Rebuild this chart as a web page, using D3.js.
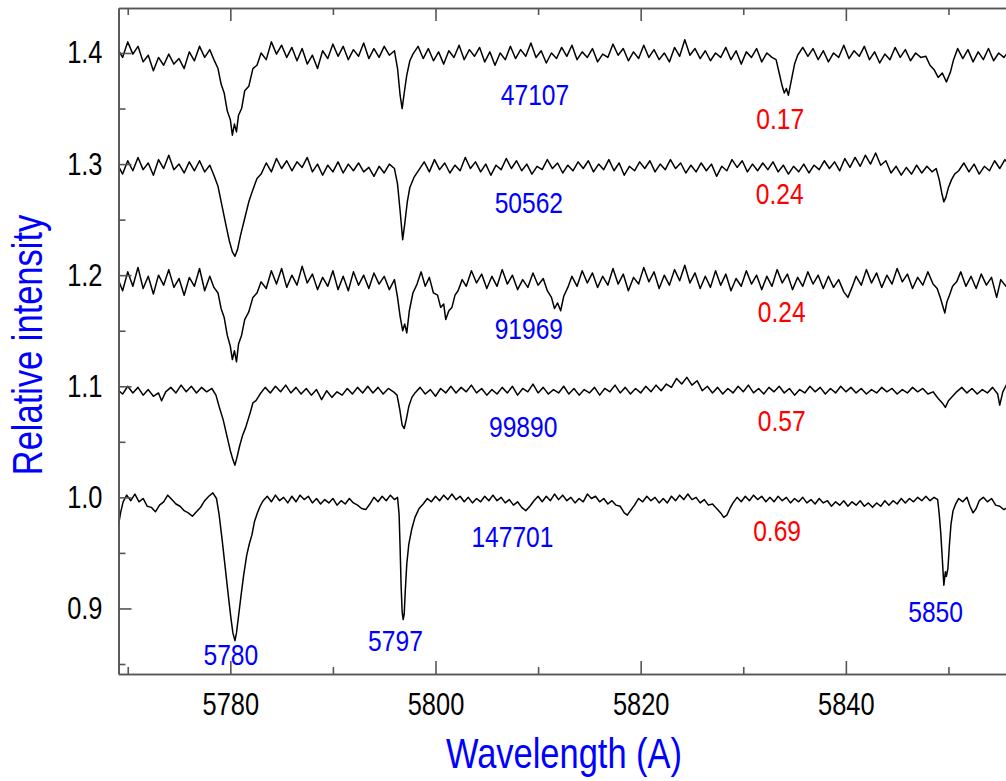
<!DOCTYPE html>
<html>
<head>
<meta charset="utf-8">
<script src="https://cdn.jsdelivr.net/npm/d3@7"></script>
<style>
  body { margin: 0; background: #fff; }
  svg text { font-family: "Liberation Sans Narrow", "Arial Narrow", "Liberation Sans", Arial, sans-serif; }
  .axis path, .axis line { stroke: #555; stroke-width: 1.6px; }
  .axis text { fill: #000; font-size: 31px; }
</style>
</head>
<body>
<div id="chart"></div>
<script>
// star ids and the ratio printed next to each spectrum
const starIds = ["47107", "50562", "91969", "99890", "147701"];
const ratioLabels = ["0.17", "0.24", "0.24", "0.57", "0.69"];
const dibLabels = ["5780", "5797", "5850"];

const xMajorTicks = [5780, 5800, 5820, 5840];
const xMinorTicks = [5770, 5790, 5810, 5830, 5850];
const yMajorTicks = [0.9, 1.0, 1.1, 1.2, 1.3, 1.4];
const yMinorTicks = [0.85, 0.95, 1.05, 1.15, 1.25, 1.35];

// spectra: [wavelength, relative intensity]
const spec47107 = [
  [5769.0,1.404],[5769.5,1.396],[5770.0,1.410],[5770.5,1.399],[5771.0,1.406],[5771.5,1.392],[5772.0,1.398],[5772.5,1.384],
  [5773.0,1.396],[5773.5,1.389],[5774.0,1.399],[5774.5,1.390],[5775.0,1.395],[5775.5,1.386],[5776.0,1.401],[5776.5,1.393],
  [5777.0,1.406],[5777.5,1.396],[5778.0,1.403],[5778.4,1.394],[5778.8,1.386],[5779.1,1.372],[5779.4,1.364],[5779.7,1.348],
  [5780.0,1.340],[5780.2,1.326],[5780.4,1.336],[5780.6,1.329],[5780.8,1.344],[5781.1,1.350],[5781.4,1.366],[5781.8,1.370],
  [5782.2,1.386],[5782.6,1.389],[5783.0,1.400],[5783.5,1.394],[5784.0,1.410],[5784.5,1.399],[5785.0,1.407],[5785.5,1.396],
  [5786.0,1.405],[5786.5,1.393],[5787.0,1.404],[5787.5,1.390],[5788.0,1.398],[5788.5,1.386],[5789.0,1.402],[5789.5,1.395],
  [5790.0,1.408],[5790.5,1.397],[5791.0,1.406],[5791.5,1.394],[5792.0,1.403],[5792.5,1.397],[5793.0,1.409],[5793.5,1.395],
  [5794.0,1.404],[5794.5,1.396],[5795.0,1.406],[5795.5,1.398],[5796.0,1.402],[5796.3,1.386],[5796.55,1.362],[5796.75,1.350],
  [5796.95,1.364],[5797.2,1.380],[5797.5,1.393],[5797.8,1.399],[5798.3,1.406],[5798.8,1.395],[5799.3,1.404],[5799.8,1.393],
  [5800.3,1.401],[5800.8,1.390],[5801.3,1.402],[5801.8,1.396],[5802.3,1.407],[5802.8,1.394],[5803.3,1.403],[5803.8,1.397],
  [5804.3,1.405],[5804.8,1.392],[5805.3,1.401],[5805.8,1.389],[5806.3,1.400],[5806.8,1.394],[5807.3,1.406],[5807.8,1.395],
  [5808.3,1.403],[5808.8,1.397],[5809.3,1.409],[5809.8,1.396],[5810.3,1.402],[5810.8,1.391],[5811.3,1.400],[5811.8,1.395],
  [5812.3,1.405],[5812.8,1.397],[5813.3,1.407],[5813.8,1.394],[5814.3,1.401],[5814.8,1.396],[5815.3,1.404],[5815.8,1.392],
  [5816.3,1.399],[5816.8,1.396],[5817.3,1.408],[5817.8,1.398],[5818.3,1.404],[5818.8,1.393],[5819.3,1.401],[5819.8,1.395],
  [5820.3,1.407],[5820.8,1.396],[5821.3,1.403],[5821.8,1.394],[5822.3,1.400],[5822.8,1.392],[5823.3,1.405],[5823.8,1.397],
  [5824.3,1.412],[5824.8,1.398],[5825.3,1.404],[5825.8,1.395],[5826.3,1.402],[5826.8,1.393],[5827.3,1.400],[5827.8,1.396],
  [5828.3,1.405],[5828.8,1.394],[5829.3,1.402],[5829.8,1.390],[5830.3,1.401],[5830.8,1.396],[5831.3,1.404],[5831.8,1.392],
  [5832.3,1.400],[5832.8,1.396],[5833.2,1.394],[5833.5,1.382],[5833.8,1.370],[5834.0,1.364],[5834.2,1.368],[5834.4,1.362],
  [5834.7,1.376],[5835.0,1.390],[5835.3,1.398],[5835.8,1.405],[5836.3,1.397],[5836.8,1.404],[5837.3,1.394],[5837.8,1.402],
  [5838.3,1.392],[5838.8,1.400],[5839.3,1.396],[5839.8,1.407],[5840.3,1.395],[5840.8,1.402],[5841.3,1.397],[5841.8,1.406],
  [5842.3,1.394],[5842.8,1.401],[5843.3,1.391],[5843.8,1.399],[5844.3,1.394],[5844.8,1.405],[5845.3,1.396],[5845.8,1.403],
  [5846.3,1.393],[5846.8,1.400],[5847.3,1.396],[5847.8,1.397],[5848.2,1.389],[5848.6,1.385],[5849.0,1.378],[5849.4,1.382],
  [5849.8,1.374],[5850.2,1.383],[5850.5,1.394],[5850.9,1.404],[5851.4,1.395],[5851.9,1.403],[5852.4,1.392],[5852.9,1.401],
  [5853.4,1.394],[5853.9,1.404],[5854.4,1.393],[5854.9,1.400],[5855.4,1.396],[5855.9,1.402]
];

const spec50562 = [
  [5769.0,1.300],[5769.5,1.291],[5770.0,1.303],[5770.5,1.294],[5771.0,1.306],[5771.5,1.295],[5772.0,1.301],[5772.5,1.290],
  [5773.0,1.304],[5773.5,1.296],[5774.0,1.308],[5774.5,1.295],[5775.0,1.300],[5775.5,1.292],[5776.0,1.302],[5776.5,1.294],
  [5777.0,1.303],[5777.5,1.293],[5778.0,1.299],[5778.4,1.290],[5778.8,1.280],[5779.2,1.262],[5779.6,1.244],[5779.9,1.231],
  [5780.2,1.221],[5780.45,1.217],[5780.7,1.223],[5781.0,1.236],[5781.4,1.251],[5781.8,1.266],[5782.2,1.277],[5782.6,1.287],
  [5783.0,1.291],[5783.5,1.301],[5784.0,1.293],[5784.5,1.305],[5785.0,1.296],[5785.5,1.303],[5786.0,1.294],[5786.5,1.302],
  [5787.0,1.297],[5787.5,1.306],[5788.0,1.293],[5788.5,1.300],[5789.0,1.290],[5789.5,1.299],[5790.0,1.293],[5790.5,1.302],
  [5791.0,1.292],[5791.5,1.300],[5792.0,1.294],[5792.5,1.301],[5793.0,1.293],[5793.5,1.297],[5794.0,1.289],[5794.5,1.298],
  [5795.0,1.292],[5795.5,1.300],[5796.0,1.296],[5796.3,1.282],[5796.55,1.258],[5796.8,1.232],[5797.0,1.246],[5797.25,1.266],
  [5797.5,1.279],[5797.9,1.288],[5798.4,1.295],[5798.9,1.302],[5799.4,1.293],[5799.9,1.304],[5800.4,1.295],[5800.9,1.301],
  [5801.4,1.292],[5801.9,1.299],[5802.4,1.294],[5802.9,1.306],[5803.4,1.296],[5803.9,1.302],[5804.4,1.293],[5804.9,1.300],
  [5805.4,1.290],[5805.9,1.299],[5806.4,1.295],[5806.9,1.305],[5807.4,1.296],[5807.9,1.303],[5808.4,1.294],[5808.9,1.300],
  [5809.4,1.291],[5809.9,1.298],[5810.4,1.295],[5810.9,1.304],[5811.4,1.296],[5811.9,1.301],[5812.4,1.292],[5812.9,1.299],
  [5813.4,1.294],[5813.9,1.302],[5814.4,1.296],[5814.9,1.303],[5815.4,1.293],[5815.9,1.300],[5816.4,1.295],[5816.9,1.304],
  [5817.4,1.294],[5817.9,1.301],[5818.4,1.290],[5818.9,1.298],[5819.4,1.294],[5819.9,1.302],[5820.4,1.296],[5820.9,1.303],
  [5821.4,1.293],[5821.9,1.300],[5822.4,1.295],[5822.9,1.304],[5823.4,1.296],[5823.9,1.301],[5824.4,1.292],[5824.9,1.299],
  [5825.4,1.293],[5825.9,1.301],[5826.4,1.294],[5826.9,1.300],[5827.4,1.289],[5827.9,1.298],[5828.4,1.294],[5828.9,1.304],
  [5829.4,1.297],[5829.9,1.303],[5830.4,1.293],[5830.9,1.300],[5831.4,1.294],[5831.9,1.301],[5832.4,1.295],[5832.9,1.302],
  [5833.4,1.293],[5833.9,1.299],[5834.4,1.291],[5834.9,1.298],[5835.4,1.293],[5835.9,1.300],[5836.4,1.292],[5836.9,1.299],
  [5837.4,1.295],[5837.9,1.303],[5838.4,1.296],[5838.9,1.302],[5839.4,1.294],[5839.9,1.305],[5840.4,1.297],[5840.9,1.306],
  [5841.4,1.298],[5841.9,1.308],[5842.4,1.300],[5842.9,1.310],[5843.4,1.299],[5843.9,1.303],[5844.4,1.292],[5844.9,1.298],
  [5845.4,1.290],[5845.9,1.297],[5846.4,1.291],[5846.9,1.299],[5847.4,1.292],[5847.9,1.298],[5848.4,1.293],[5848.8,1.296],
  [5849.1,1.286],[5849.35,1.274],[5849.55,1.266],[5849.75,1.270],[5850.0,1.279],[5850.3,1.286],[5850.6,1.291],[5851.0,1.294],
  [5851.5,1.301],[5852.0,1.293],[5852.5,1.300],[5853.0,1.291],[5853.5,1.298],[5854.0,1.294],[5854.5,1.303],[5855.0,1.296],
  [5855.5,1.304],[5856.0,1.298]
];

const spec91969 = [
  [5769.0,1.198],[5769.5,1.186],[5770.0,1.203],[5770.5,1.190],[5771.0,1.207],[5771.5,1.188],[5772.0,1.199],[5772.5,1.183],
  [5773.0,1.200],[5773.5,1.191],[5774.0,1.205],[5774.5,1.189],[5775.0,1.197],[5775.5,1.182],[5776.0,1.198],[5776.5,1.190],
  [5777.0,1.206],[5777.5,1.186],[5778.0,1.199],[5778.4,1.189],[5778.8,1.184],[5779.1,1.170],[5779.4,1.162],[5779.7,1.146],
  [5780.0,1.136],[5780.2,1.124],[5780.4,1.132],[5780.6,1.122],[5780.8,1.138],[5781.1,1.146],[5781.4,1.160],[5781.8,1.167],
  [5782.2,1.180],[5782.6,1.184],[5783.0,1.194],[5783.5,1.188],[5784.0,1.204],[5784.5,1.192],[5785.0,1.206],[5785.5,1.189],
  [5786.0,1.200],[5786.5,1.191],[5787.0,1.208],[5787.5,1.193],[5788.0,1.201],[5788.5,1.187],[5789.0,1.198],[5789.5,1.190],
  [5790.0,1.204],[5790.5,1.187],[5791.0,1.199],[5791.5,1.186],[5792.0,1.203],[5792.5,1.191],[5793.0,1.200],[5793.5,1.188],
  [5794.0,1.202],[5794.5,1.192],[5795.0,1.199],[5795.5,1.187],[5796.0,1.196],[5796.3,1.180],[5796.55,1.163],[5796.8,1.150],
  [5797.0,1.156],[5797.2,1.148],[5797.45,1.168],[5797.8,1.184],[5798.2,1.192],[5798.6,1.203],[5799.0,1.190],[5799.4,1.198],
  [5799.8,1.184],[5800.2,1.182],[5800.5,1.171],[5800.8,1.174],[5801.0,1.160],[5801.3,1.168],[5801.6,1.171],[5801.9,1.182],
  [5802.2,1.186],[5802.6,1.196],[5803.0,1.190],[5803.5,1.204],[5804.0,1.193],[5804.5,1.201],[5805.0,1.188],[5805.5,1.199],
  [5806.0,1.190],[5806.5,1.205],[5807.0,1.192],[5807.5,1.200],[5808.0,1.187],[5808.5,1.196],[5809.0,1.189],[5809.5,1.202],
  [5810.0,1.191],[5810.5,1.197],[5810.9,1.186],[5811.3,1.180],[5811.6,1.170],[5811.9,1.175],[5812.2,1.168],[5812.5,1.181],
  [5812.9,1.189],[5813.3,1.199],[5813.8,1.190],[5814.3,1.204],[5814.8,1.193],[5815.3,1.202],[5815.8,1.189],[5816.3,1.199],
  [5816.8,1.191],[5817.3,1.206],[5817.8,1.192],[5818.3,1.201],[5818.8,1.186],[5819.3,1.198],[5819.8,1.192],[5820.3,1.207],
  [5820.8,1.194],[5821.3,1.203],[5821.8,1.188],[5822.3,1.200],[5822.8,1.191],[5823.3,1.205],[5823.8,1.195],[5824.3,1.209],
  [5824.8,1.193],[5825.3,1.202],[5825.8,1.188],[5826.3,1.199],[5826.8,1.189],[5827.3,1.204],[5827.8,1.191],[5828.3,1.201],
  [5828.8,1.186],[5829.3,1.197],[5829.8,1.190],[5830.3,1.204],[5830.8,1.192],[5831.3,1.200],[5831.8,1.187],[5832.3,1.199],
  [5832.8,1.190],[5833.3,1.205],[5833.8,1.193],[5834.3,1.201],[5834.8,1.187],[5835.3,1.198],[5835.8,1.190],[5836.3,1.203],
  [5836.8,1.192],[5837.3,1.200],[5837.8,1.188],[5838.3,1.199],[5838.8,1.189],[5839.3,1.196],[5839.8,1.185],[5840.2,1.180],
  [5840.6,1.189],[5841.0,1.199],[5841.5,1.191],[5842.0,1.205],[5842.5,1.193],[5843.0,1.202],[5843.5,1.189],[5844.0,1.200],
  [5844.5,1.192],[5845.0,1.206],[5845.5,1.194],[5846.0,1.201],[5846.5,1.188],[5847.0,1.198],[5847.5,1.191],[5848.0,1.203],
  [5848.5,1.192],[5848.9,1.188],[5849.2,1.180],[5849.45,1.172],[5849.65,1.166],[5849.85,1.176],[5850.1,1.182],[5850.4,1.190],
  [5850.8,1.194],[5851.2,1.203],[5851.7,1.190],[5852.2,1.199],[5852.7,1.188],[5853.2,1.201],[5853.7,1.191],[5854.2,1.198],
  [5854.7,1.180],[5855.1,1.196],[5855.6,1.190],[5856.0,1.199]
];

const spec99890 = [
  [5769.0,1.097],[5769.5,1.093],[5770.0,1.100],[5770.5,1.094],[5771.0,1.099],[5771.5,1.092],[5772.0,1.097],[5772.5,1.091],
  [5773.0,1.094],[5773.3,1.087],[5773.7,1.095],[5774.2,1.099],[5774.7,1.094],[5775.2,1.101],[5775.7,1.095],[5776.2,1.100],
  [5776.7,1.094],[5777.2,1.099],[5777.7,1.095],[5778.2,1.098],[5778.6,1.092],[5778.9,1.082],[5779.3,1.070],[5779.7,1.054],
  [5780.0,1.042],[5780.25,1.034],[5780.45,1.029],[5780.65,1.036],[5780.9,1.046],[5781.2,1.056],[5781.5,1.063],[5781.9,1.075],
  [5782.2,1.085],[5782.5,1.087],[5782.9,1.093],[5783.4,1.099],[5783.9,1.094],[5784.4,1.100],[5784.9,1.095],[5785.4,1.101],
  [5785.9,1.094],[5786.4,1.099],[5786.9,1.093],[5787.4,1.098],[5787.9,1.092],[5788.4,1.097],[5788.9,1.088],[5789.4,1.096],
  [5789.9,1.090],[5790.4,1.095],[5790.9,1.092],[5791.4,1.098],[5791.9,1.093],[5792.4,1.099],[5792.9,1.094],[5793.4,1.100],
  [5793.9,1.094],[5794.4,1.099],[5794.9,1.093],[5795.4,1.098],[5795.9,1.095],[5796.25,1.092],[5796.5,1.080],[5796.75,1.065],
  [5796.95,1.062],[5797.15,1.070],[5797.4,1.082],[5797.7,1.090],[5798.0,1.094],[5798.5,1.099],[5799.0,1.093],[5799.5,1.097],
  [5800.0,1.091],[5800.5,1.098],[5801.0,1.094],[5801.5,1.100],[5802.0,1.094],[5802.5,1.099],[5803.0,1.095],[5803.5,1.101],
  [5804.0,1.094],[5804.5,1.098],[5805.0,1.092],[5805.5,1.097],[5806.0,1.093],[5806.5,1.099],[5807.0,1.094],[5807.5,1.100],
  [5808.0,1.092],[5808.5,1.098],[5809.0,1.095],[5809.5,1.102],[5810.0,1.094],[5810.5,1.099],[5811.0,1.093],[5811.5,1.097],
  [5812.0,1.094],[5812.5,1.100],[5813.0,1.093],[5813.5,1.098],[5814.0,1.092],[5814.5,1.097],[5815.0,1.094],[5815.5,1.099],
  [5816.0,1.092],[5816.5,1.098],[5817.0,1.095],[5817.5,1.101],[5818.0,1.094],[5818.5,1.099],[5819.0,1.093],[5819.5,1.098],
  [5820.0,1.094],[5820.5,1.100],[5821.0,1.095],[5821.5,1.101],[5822.0,1.096],[5822.5,1.102],[5823.0,1.099],[5823.5,1.107],
  [5824.0,1.102],[5824.5,1.108],[5825.0,1.101],[5825.5,1.105],[5826.0,1.096],[5826.5,1.100],[5827.0,1.094],[5827.5,1.099],
  [5828.0,1.093],[5828.5,1.098],[5829.0,1.094],[5829.5,1.100],[5830.0,1.095],[5830.5,1.101],[5831.0,1.094],[5831.5,1.098],
  [5832.0,1.093],[5832.5,1.099],[5833.0,1.095],[5833.5,1.100],[5834.0,1.094],[5834.5,1.098],[5835.0,1.092],[5835.5,1.097],
  [5836.0,1.094],[5836.5,1.100],[5837.0,1.095],[5837.5,1.099],[5838.0,1.093],[5838.5,1.098],[5839.0,1.094],[5839.5,1.100],
  [5840.0,1.095],[5840.5,1.099],[5841.0,1.094],[5841.5,1.098],[5842.0,1.093],[5842.5,1.097],[5843.0,1.094],[5843.5,1.099],
  [5844.0,1.095],[5844.5,1.098],[5845.0,1.093],[5845.5,1.097],[5846.0,1.094],[5846.5,1.099],[5847.0,1.095],[5847.5,1.098],
  [5848.0,1.093],[5848.5,1.095],[5849.0,1.089],[5849.4,1.085],[5849.7,1.081],[5850.0,1.087],[5850.4,1.091],[5850.8,1.095],
  [5851.3,1.099],[5851.8,1.094],[5852.3,1.098],[5852.8,1.093],[5853.3,1.097],[5853.8,1.094],[5854.3,1.099],[5854.8,1.093],
  [5855.0,1.083],[5855.3,1.095],[5855.8,1.104]
];

const spec147701 = [
  [5769.05,0.972],[5769.3,0.986],[5769.55,0.996],[5769.9,1.002],[5770.3,0.997],[5770.7,1.003],[5771.1,0.996],[5771.5,0.999],
  [5771.9,0.992],[5772.3,0.991],[5772.7,0.987],[5773.1,0.993],[5773.5,0.996],[5773.9,1.002],[5774.3,0.998],[5774.7,0.994],
  [5775.1,0.992],[5775.5,0.988],[5775.9,0.986],[5776.3,0.983],[5776.7,0.987],[5777.1,0.991],[5777.5,0.997],[5777.9,1.001],
  [5778.3,1.004],[5778.65,0.999],[5778.9,0.985],[5779.2,0.962],[5779.5,0.937],[5779.8,0.912],[5780.05,0.892],[5780.25,0.878],
  [5780.45,0.871],[5780.6,0.878],[5780.8,0.893],[5781.05,0.912],[5781.3,0.930],[5781.6,0.948],[5781.85,0.958],[5782.1,0.966],
  [5782.35,0.978],[5782.6,0.985],[5782.9,0.992],[5783.2,0.997],[5783.6,1.001],[5784.0,0.996],[5784.4,1.002],[5784.8,0.997],
  [5785.2,1.000],[5785.6,0.995],[5786.0,1.001],[5786.4,0.996],[5786.8,1.002],[5787.2,0.998],[5787.6,1.001],[5788.0,0.995],
  [5788.4,0.999],[5788.8,0.994],[5789.2,0.998],[5789.6,0.995],[5790.0,0.999],[5790.4,0.993],[5790.8,0.997],[5791.2,0.994],
  [5791.6,0.999],[5792.0,0.995],[5792.4,0.993],[5792.8,0.990],[5793.2,0.989],[5793.6,0.994],[5794.0,1.000],[5794.4,0.996],
  [5794.8,1.001],[5795.2,0.997],[5795.6,1.002],[5796.0,0.998],[5796.3,1.000],[5796.45,0.985],[5796.55,0.955],[5796.65,0.920],
  [5796.75,0.897],[5796.85,0.890],[5796.95,0.895],[5797.05,0.915],[5797.2,0.940],[5797.4,0.958],[5797.7,0.972],[5798.0,0.982],
  [5798.4,0.990],[5798.8,0.994],[5799.2,0.999],[5799.6,0.996],[5800.0,1.001],[5800.4,0.997],[5800.8,1.002],[5801.2,0.998],
  [5801.6,1.003],[5802.0,0.998],[5802.4,1.001],[5802.8,0.996],[5803.2,1.000],[5803.6,0.995],[5804.0,0.999],[5804.4,0.996],
  [5804.8,1.001],[5805.2,0.997],[5805.6,1.002],[5806.0,0.997],[5806.4,1.000],[5806.8,0.995],[5807.2,0.998],[5807.6,0.993],
  [5808.0,0.996],[5808.4,0.991],[5808.8,0.988],[5809.2,0.992],[5809.6,0.997],[5810.0,1.001],[5810.4,0.996],[5810.8,1.001],
  [5811.2,0.997],[5811.6,1.003],[5812.0,0.998],[5812.4,1.002],[5812.8,0.997],[5813.2,1.000],[5813.6,0.995],[5814.0,0.999],
  [5814.4,0.996],[5814.8,1.003],[5815.2,0.999],[5815.6,1.001],[5816.0,0.996],[5816.4,0.999],[5816.8,0.994],[5817.2,0.997],
  [5817.6,0.993],[5818.0,0.992],[5818.4,0.986],[5818.7,0.984],[5819.0,0.988],[5819.4,0.993],[5819.8,0.999],[5820.2,0.996],
  [5820.6,1.001],[5821.0,0.997],[5821.4,1.000],[5821.8,0.995],[5822.2,0.999],[5822.6,0.995],[5823.0,1.001],[5823.4,0.997],
  [5823.8,1.002],[5824.2,0.998],[5824.6,1.003],[5825.0,0.998],[5825.4,1.000],[5825.8,0.995],[5826.2,0.998],[5826.6,0.993],
  [5827.0,0.994],[5827.4,0.990],[5827.8,0.986],[5828.1,0.982],[5828.4,0.984],[5828.7,0.990],[5829.0,0.995],[5829.4,1.000],
  [5829.8,0.996],[5830.2,1.001],[5830.6,0.997],[5831.0,1.002],[5831.4,0.998],[5831.8,1.001],[5832.2,0.996],[5832.6,1.000],
  [5833.0,0.996],[5833.4,1.001],[5833.8,0.997],[5834.2,1.000],[5834.6,0.995],[5835.0,0.999],[5835.4,0.996],[5835.8,1.000],
  [5836.2,0.995],[5836.6,0.998],[5837.0,0.994],[5837.4,0.999],[5837.8,0.995],[5838.2,0.997],[5838.6,0.992],[5839.0,0.996],
  [5839.4,0.993],[5839.8,0.997],[5840.2,0.992],[5840.6,0.996],[5841.0,0.993],[5841.4,0.997],[5841.8,0.992],[5842.2,0.995],
  [5842.6,0.991],[5843.0,0.995],[5843.4,0.992],[5843.8,0.997],[5844.2,0.993],[5844.6,0.997],[5845.0,0.994],[5845.4,0.999],
  [5845.8,0.995],[5846.2,0.999],[5846.6,0.996],[5847.0,1.000],[5847.4,0.997],[5847.8,1.001],[5848.2,0.997],[5848.6,1.000],
  [5848.95,0.998],[5849.1,0.985],[5849.25,0.968],[5849.4,0.945],[5849.55,0.921],[5849.7,0.933],[5849.8,0.929],[5849.95,0.936],
  [5850.1,0.958],[5850.25,0.976],[5850.45,0.988],[5850.7,0.994],[5851.0,0.999],[5851.4,0.996],[5851.8,1.000],[5852.1,0.992],
  [5852.4,0.986],[5852.7,0.990],[5853.0,0.997],[5853.4,1.000],[5853.8,0.996],[5854.2,0.999],[5854.6,0.993],[5855.0,0.992],
  [5855.4,0.989],[5855.8,0.991]
];

const spectra = [spec47107, spec50562, spec91969, spec99890, spec147701];

// where the annotations sit, in data units (x: wavelength, y: intensity at text baseline)
const starLabelAt = [[5809.7, 1.353], [5809.1, 1.256], [5809.1, 1.143], [5808.55, 1.054], [5807.5, 0.955]];
const ratioLabelAt = [[5833.6, 1.332], [5833.55, 1.264], [5833.75, 1.158], [5833.75, 1.060], [5833.3, 0.961]];
const dibLabelAt = [[5780.05, 0.849], [5796.1, 0.862], [5848.75, 0.888]];

const width = 1006, height = 781;
const plotLeft = 118.5, plotTop = 8, plotRight = 1010, plotBottom = 674;

const x = d3.scaleLinear().domain([5769.1, 5856]).range([plotLeft, plotRight]);
const y = d3.scaleLinear().domain([0.841, 1.4405]).range([plotBottom, plotTop]);

const svg = d3.select("#chart").append("svg")
    .attr("width", width)
    .attr("height", height)
    .style("display", "block");

svg.append("defs").append("clipPath")
    .attr("id", "plotClip")
    .append("rect")
    .attr("x", plotLeft).attr("y", plotTop)
    .attr("width", plotRight - plotLeft).attr("height", plotBottom - plotTop);

// the original uses a narrow face; squeeze the regular one if that is what we got
function narrow(sel) {
    sel.each(function() {
        const w = this.getComputedTextLength();
        d3.select(this)
            .attr("textLength", w * 0.82)
            .attr("lengthAdjust", "spacingAndGlyphs");
    });
}

// spectra
const line = d3.line().x(d => x(d[0])).y(d => y(d[1]));

svg.append("g")
    .attr("clip-path", "url(#plotClip)")
    .selectAll("path")
    .data(spectra)
    .enter().append("path")
    .attr("d", line)
    .attr("fill", "none")
    .attr("stroke", "#000")
    .attr("stroke-width", 1.5)
    .attr("stroke-linejoin", "round");

// axes: ticks point inward, minor ticks shorter
svg.append("g").attr("class", "axis")
    .attr("transform", `translate(0,${plotBottom})`)
    .call(d3.axisBottom(x).tickValues(xMajorTicks).tickSizeInner(-13).tickSizeOuter(0)
        .tickPadding(19).tickFormat(d3.format("d")));
svg.append("g").attr("class", "axis")
    .attr("transform", `translate(0,${plotBottom})`)
    .call(d3.axisBottom(x).tickValues(xMinorTicks).tickSizeInner(-7).tickSizeOuter(0).tickFormat(""));
svg.append("g").attr("class", "axis")
    .attr("transform", `translate(0,${plotTop})`)
    .call(d3.axisTop(x).tickValues(xMajorTicks).tickSizeInner(-13).tickSizeOuter(0).tickFormat(""));
svg.append("g").attr("class", "axis")
    .attr("transform", `translate(0,${plotTop})`)
    .call(d3.axisTop(x).tickValues(xMinorTicks).tickSizeInner(-7).tickSizeOuter(0).tickFormat(""));

svg.append("g").attr("class", "axis")
    .attr("transform", `translate(${plotLeft},0)`)
    .call(d3.axisLeft(y).tickValues(yMajorTicks).tickSizeInner(-13).tickSizeOuter(0)
        .tickPadding(16).tickFormat(d3.format(".1f")));
svg.append("g").attr("class", "axis")
    .attr("transform", `translate(${plotLeft},0)`)
    .call(d3.axisLeft(y).tickValues(yMinorTicks).tickSizeInner(-7).tickSizeOuter(0).tickFormat(""));

svg.selectAll(".axis text").call(narrow);

// annotations
function addLabels(labels, at, color) {
    svg.append("g").selectAll("text")
        .data(labels)
        .enter().append("text")
        .attr("x", (d, i) => x(at[i][0]))
        .attr("y", (d, i) => y(at[i][1]))
        .attr("text-anchor", "middle")
        .attr("fill", color)
        .style("font-size", "30px")
        .text(d => d)
        .call(narrow);
}
addLabels(starIds, starLabelAt, "#0000ff");
addLabels(ratioLabels, ratioLabelAt, "#ff0000");
addLabels(dibLabels, dibLabelAt, "#0000ff");

// axis titles
svg.append("text")
    .attr("x", 564)
    .attr("y", 768)
    .attr("text-anchor", "middle")
    .attr("fill", "#0000ff")
    .style("font-size", "42px")
    .text("Wavelength (A)")
    .call(narrow);

svg.append("text")
    .attr("transform", "translate(42,345) rotate(-90)")
    .attr("text-anchor", "middle")
    .attr("fill", "#0000ff")
    .style("font-size", "42px")
    .text("Relative intensity")
    .call(narrow);
</script>
</body>
</html>
